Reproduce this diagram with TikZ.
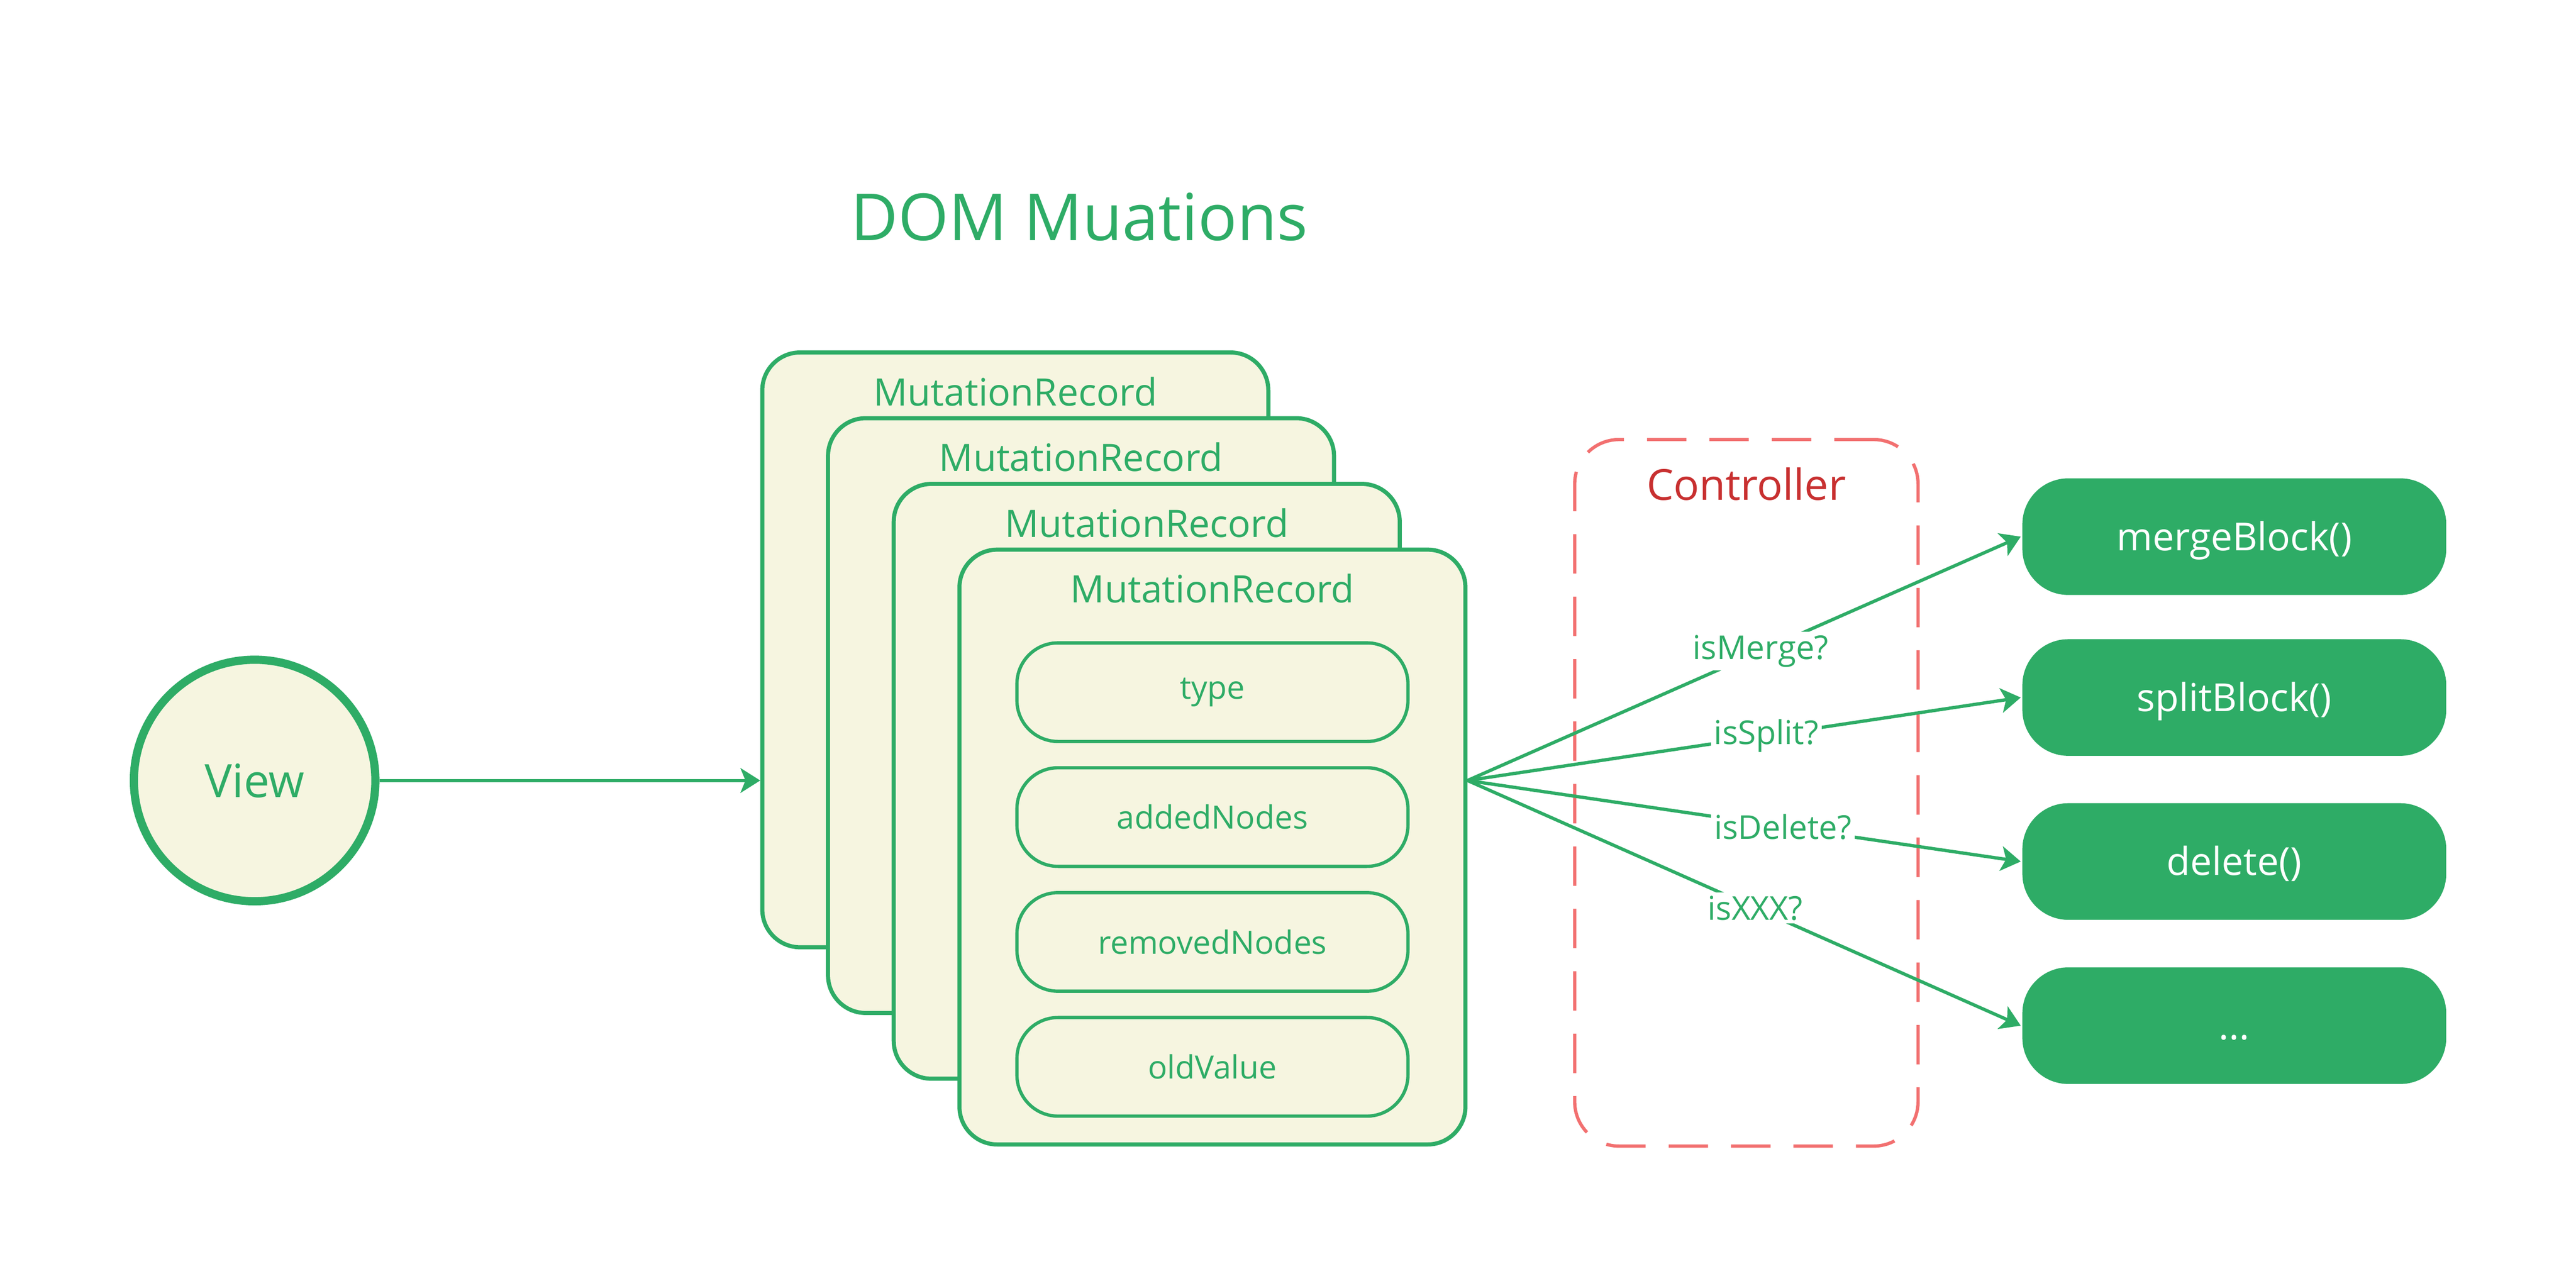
\documentclass[tikz,border=0pt]{standalone}
\usepackage{fontspec}
\setmainfont{Open Sans}
\usetikzlibrary{arrows.meta, positioning}

\definecolor{mgreen}{RGB}{46,172,102}
\definecolor{cream}{RGB}{246,245,224}
\definecolor{ctrlred}{RGB}{242,112,112}
\definecolor{ctrltext}{RGB}{200,48,48}

\begin{document}
\begin{tikzpicture}[
            x = 1pt, y = -1pt, % one unit = one pixel of the sketch
            > = {Stealth[length=12pt, width=15pt, inset=3pt]}, % arrow head style
            mgreen,
            line width = 2pt
        ]

        \tikzstyle{record}=[
            draw = mgreen,
            line width = 2.5pt,
            fill = cream,
            rounded corners = 23pt,
            minimum width = 308pt,
            minimum height = 362pt
        ]
        \tikzstyle{field}=[
            draw = mgreen,
            fill = cream,
            rounded corners = 25pt,
            minimum width = 238pt,
            minimum height = 60pt,
            font = \fontsize{19.5}{22}\selectfont
        ]
        \tikzstyle{action}=[
            fill = mgreen,
            text = white,
            rounded corners = 28pt,
            minimum width = 258pt,
            minimum height = 71pt,
            text height = 16.8pt,
            text depth = 0pt,
            font = \fontsize{23.5}{28}\selectfont
        ]
        \tikzstyle{question}=[
            fill = white,
            inner sep = 2pt,
            font = \fontsize{20}{24}\selectfont
        ]

        \useasboundingbox (0,0) rectangle (1568,779.4);

        \node[font=\fontsize{39.5}{44}\selectfont] (title) at (657,132) {DOM Muations};

        \node[circle, draw, line width=5pt, fill=cream, minimum size=147pt,
              font=\fontsize{28}{32}\selectfont] (view) at (155,475) {View};

        % stacked records
        \foreach \i in {1,...,4} {
            \node[record] (rec\i) at ({618+40*(\i-1)}, {395.5+40*(\i-1)}) {};
            \node[font=\fontsize{23}{28}\selectfont] (head\i) at ([yshift=-25pt]rec\i.north) {MutationRecord};
        }

        \node[field] (type) at ([yshift=-88pt]rec4.north) {type};
        \node[field, below=14pt of type] (added) {addedNodes};
        \node[field, below=14pt of added] (removed) {removedNodes};
        \node[field, below=14pt of removed] (old) {oldValue};

        % controller
        \node[draw=ctrlred, dash pattern=on 24pt off 14pt, rounded corners=27pt,
              minimum width=209pt, minimum height=430pt] (ctrl) at (1063,482.5) {};
        \node[text=ctrltext, font=\fontsize{26}{30}\selectfont] (ctrltitle) at ([yshift=-28pt]ctrl.north) {Controller};

        \node[action] (merge) at (1360,326.6) {mergeBlock()};
        \node[action] (split) at (1360,424.5) {splitBlock()};
        \node[action] (delete) at (1360,524.3) {delete()};
        \node[action] (other) at (1360,624.2) {...};

        \coordinate (fan) at (view -| rec4.east);

        \draw[->] (view) -- (view -| rec1.west);

        \draw[->] (fan) -- node[question, pos=0.53] {isMerge?} (merge.west);
        \draw[->] (fan) -- node[question, pos=0.54] {isSplit?} (split.west);
        \draw[->] (fan) -- node[question, pos=0.57] {isDelete?} (delete.west);
        \draw[->] (fan) -- node[question, pos=0.52] {isXXX?} (other.west);

    \end{tikzpicture}
\end{document}
